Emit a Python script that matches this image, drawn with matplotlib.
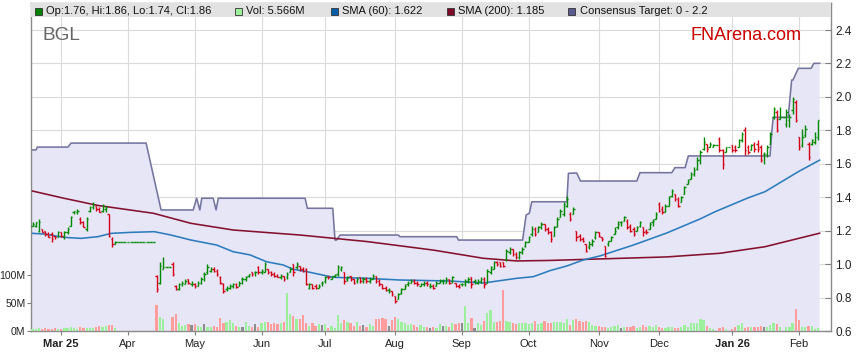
import numpy as np
import matplotlib.pyplot as plt
from matplotlib.collections import LineCollection
from matplotlib.patches import Rectangle

# ---- data (trading-day index 0..247) ----
opens = [1.23,1.23,1.20,1.21,1.20,1.18,1.18,1.17,1.16,1.19,
 1.16,1.19,1.23,1.31,1.31,1.27,1.25,1.21,1.32,1.34,
 1.35,1.33,1.32,1.33,1.30,1.15,1.12,1.13,1.13,1.13,
 1.13,1.13,1.13,1.13,1.13,1.13,1.13,1.13,1.13,0.93,
 0.89,0.97,0.98,0.98,1.00,0.87,0.85,0.88,0.88,0.91,
 0.88,0.88,0.87,0.89,0.94,0.95,0.96,0.97,0.96,0.92,
 0.88,0.85,0.86,0.87,0.88,0.87,0.91,0.91,0.93,0.95,
 0.95,0.98,0.95,0.95,0.97,0.95,0.94,0.93,0.92,0.93,
 0.92,0.95,1.00,0.98,0.99,0.97,0.97,0.86,0.88,0.87,
 0.86,0.89,0.90,0.93,0.91,0.93,0.94,0.97,0.95,0.91,
 0.93,0.91,0.90,0.92,0.91,0.91,0.90,0.91,0.93,0.90,
 0.88,0.86,0.845,0.84,0.81,0.79,0.83,0.85,0.88,0.89,
 0.90,0.89,0.87,0.88,0.89,0.87,0.87,0.87,0.89,0.90,
 0.89,0.91,0.90,0.89,0.87,0.88,0.88,0.90,0.92,0.90,
 0.89,0.90,0.91,0.89,0.95,0.97,1.01,1.01,1.01,1.03,
 1.07,1.09,1.06,1.04,1.07,1.11,1.13,1.18,1.21,1.19,
 1.22,1.24,1.21,1.19,1.17,1.23,1.28,1.30,1.35,1.30,
 1.30,1.20,1.17,1.15,1.12,1.10,1.12,1.16,1.19,1.16,
 1.11,1.12,1.14,1.18,1.22,1.25,1.26,1.26,1.23,1.21,
 1.20,1.23,1.22,1.20,1.21,1.25,1.27,1.36,1.33,1.31,
 1.35,1.41,1.42,1.39,1.37,1.42,1.48,1.51,1.54,1.57,
 1.62,1.69,1.72,1.70,1.70,1.71,1.75,1.68,1.67,1.70,
 1.71,1.70,1.70,1.74,1.80,1.70,1.68,1.72,1.72,1.70,
 1.66,1.66,1.72,1.88,1.91,1.87,1.88,1.84,1.86,1.92,
 1.97,1.76,1.71,1.77,1.72,1.72,1.73,1.76]

highs = [1.25,1.25,1.27,1.21,1.20,1.19,1.19,1.17,1.20,1.19,
 1.20,1.22,1.29,1.32,1.33,1.28,1.26,1.28,1.35,1.37,
 1.35,1.34,1.36,1.35,1.30,1.16,1.14,1.13,1.13,1.13,
 1.13,1.13,1.13,1.13,1.13,1.13,1.13,1.13,1.13,0.935,
 1.01,1.04,0.98,0.98,1.01,0.875,0.89,0.90,0.91,0.91,
 0.90,0.89,0.90,0.92,0.95,1.00,0.98,0.98,0.97,0.93,
 0.89,0.87,0.88,0.89,0.89,0.90,0.92,0.93,0.94,0.95,
 0.96,0.99,0.97,1.01,0.97,0.96,0.95,0.94,0.94,0.93,
 0.95,0.98,1.00,1.01,0.99,0.98,0.975,0.89,0.88,0.88,
 0.88,0.90,0.93,0.93,0.93,0.94,0.995,0.99,0.95,0.93,
 0.93,0.91,0.92,0.92,0.92,0.92,0.92,0.94,0.93,0.91,
 0.88,0.87,0.86,0.84,0.81,0.83,0.86,0.88,0.90,0.91,
 0.91,0.90,0.89,0.90,0.90,0.89,0.88,0.90,0.91,0.91,
 0.92,0.91,0.93,0.89,0.88,0.89,0.91,0.92,0.92,0.91,
 0.91,0.92,0.92,0.97,0.99,1.02,1.02,1.01,1.01,1.09,
 1.10,1.09,1.07,1.08,1.10,1.14,1.17,1.23,1.22,1.23,
 1.25,1.24,1.22,1.20,1.23,1.28,1.33,1.37,1.41,1.31,
 1.34,1.20,1.18,1.16,1.12,1.14,1.15,1.20,1.19,1.16,
 1.11,1.14,1.17,1.22,1.26,1.26,1.29,1.27,1.24,1.22,
 1.23,1.26,1.22,1.21,1.25,1.27,1.31,1.37,1.35,1.36,
 1.41,1.45,1.42,1.40,1.41,1.47,1.51,1.55,1.58,1.64,
 1.68,1.76,1.72,1.73,1.72,1.71,1.76,1.69,1.70,1.70,
 1.71,1.71,1.75,1.79,1.82,1.71,1.72,1.73,1.74,1.71,
 1.67,1.71,1.79,1.94,1.92,1.94,1.88,1.93,1.90,2.00,
 1.98,1.76,1.81,1.83,1.73,1.75,1.79,1.86]

lows = [1.23,1.22,1.19,1.19,1.17,1.16,1.13,1.15,1.16,1.16,
 1.15,1.18,1.23,1.30,1.30,1.24,1.22,1.20,1.31,1.33,
 1.32,1.31,1.31,1.31,1.16,1.10,1.12,1.13,1.13,1.13,
 1.13,1.13,1.13,1.13,1.13,1.13,1.13,1.13,1.13,0.835,
 0.88,0.97,0.98,0.98,0.93,0.845,0.845,0.87,0.88,0.88,
 0.87,0.86,0.87,0.88,0.90,0.94,0.95,0.95,0.93,0.88,
 0.83,0.84,0.85,0.86,0.86,0.87,0.88,0.90,0.92,0.93,
 0.93,0.94,0.94,0.95,0.94,0.93,0.92,0.92,0.91,0.90,
 0.91,0.95,0.93,0.97,0.96,0.95,0.875,0.85,0.85,0.85,
 0.86,0.87,0.89,0.91,0.91,0.92,0.93,0.96,0.88,0.90,
 0.90,0.88,0.89,0.89,0.89,0.89,0.89,0.91,0.89,0.87,
 0.85,0.84,0.83,0.81,0.77,0.79,0.82,0.85,0.87,0.89,
 0.88,0.87,0.87,0.87,0.87,0.86,0.85,0.87,0.89,0.88,
 0.89,0.88,0.89,0.865,0.86,0.87,0.87,0.89,0.86,0.88,
 0.88,0.89,0.86,0.89,0.94,0.97,0.99,0.98,0.98,1.02,
 1.06,1.05,1.03,1.03,1.06,1.10,1.13,1.17,1.17,1.19,
 1.21,1.20,1.18,1.13,1.17,1.22,1.28,1.29,1.34,1.26,
 1.30,1.14,1.14,1.13,1.07,1.09,1.11,1.15,1.16,1.14,
 1.04,1.11,1.14,1.18,1.21,1.23,1.26,1.21,1.19,1.17,
 1.20,1.22,1.17,1.18,1.21,1.23,1.27,1.31,1.30,1.31,
 1.35,1.40,1.38,1.34,1.37,1.42,1.48,1.51,1.53,1.56,
 1.60,1.68,1.67,1.70,1.70,1.71,1.67,1.57,1.67,1.70,
 1.67,1.67,1.70,1.73,1.65,1.66,1.68,1.67,1.67,1.61,
 1.60,1.64,1.72,1.87,1.79,1.87,1.88,1.82,1.82,1.90,
 1.85,1.68,1.70,1.76,1.62,1.71,1.72,1.74]

closes = [1.24,1.25,1.25,1.19,1.18,1.16,1.15,1.16,1.19,1.17,
 1.19,1.21,1.28,1.32,1.32,1.25,1.22,1.27,1.34,1.36,
 1.33,1.31,1.35,1.34,1.17,1.12,1.13,1.13,1.13,1.13,
 1.13,1.13,1.13,1.13,1.13,1.13,1.13,1.13,1.13,0.85,
 0.99,0.98,0.98,0.98,0.94,0.85,0.88,0.89,0.90,0.89,
 0.88,0.87,0.89,0.91,0.94,0.98,0.97,0.96,0.94,0.89,
 0.84,0.86,0.87,0.88,0.865,0.89,0.91,0.92,0.94,0.94,
 0.95,0.95,0.96,1.00,0.95,0.94,0.93,0.92,0.93,0.91,
 0.94,0.97,0.95,1.00,0.97,0.96,0.88,0.88,0.86,0.86,
 0.87,0.89,0.92,0.92,0.93,0.935,0.98,0.98,0.90,0.92,
 0.91,0.89,0.91,0.90,0.91,0.90,0.91,0.93,0.90,0.88,
 0.86,0.845,0.845,0.82,0.78,0.82,0.85,0.87,0.89,0.90,
 0.89,0.88,0.88,0.89,0.88,0.87,0.86,0.89,0.90,0.90,
 0.91,0.89,0.92,0.87,0.865,0.88,0.90,0.91,0.88,0.90,
 0.90,0.91,0.88,0.96,0.98,1.01,1.00,0.99,0.99,1.08,
 1.09,1.06,1.04,1.07,1.09,1.13,1.16,1.21,1.18,1.22,
 1.24,1.21,1.19,1.15,1.22,1.27,1.32,1.36,1.39,1.27,
 1.33,1.16,1.15,1.14,1.08,1.12,1.14,1.19,1.17,1.15,
 1.05,1.14,1.16,1.20,1.24,1.25,1.28,1.22,1.20,1.18,
 1.22,1.25,1.19,1.19,1.24,1.26,1.30,1.32,1.31,1.35,
 1.40,1.44,1.39,1.35,1.40,1.46,1.50,1.54,1.56,1.62,
 1.67,1.73,1.69,1.72,1.71,1.71,1.68,1.60,1.70,1.70,
 1.68,1.68,1.74,1.78,1.68,1.67,1.71,1.69,1.69,1.62,
 1.66,1.70,1.78,1.93,1.80,1.88,1.88,1.91,1.88,1.99,
 1.86,1.70,1.76,1.81,1.64,1.74,1.76,1.86]

# volume in millions
volumes = [4,4,5,4,5,4,4,5,4,4,
 5,6,7,6,4,8,5,6,6,6,
 7,9,8,9,11,10,5,0,0,0,
 0,0,0,0,0,0,0,0,0,47,
 26,21,0,0,26,30,15,9,11,12,
 11,12,9,8,13,7,8,9,8,24,
 14,17,20,15,9,8,8,16,9,8,
 13,8,15,16,16,13,15,13,15,17,
 69,30,27,22,21,28,15,9,15,9,
 12,10,12,6,9,6,28,15,20,16,
 15,9,16,9,10,8,12,9,21,22,
 24,21,9,20,26,21,16,15,10,12,
 10,8,10,8,8,6,8,6,12,9,
 9,7,15,12,14,14,45,14,24,6,
 14,11,18,33,37,16,16,18,73,18,
 16,14,13,14,14,14,13,14,18,13,
 14,18,14,14,16,16,16,14,22,11,
 20,22,18,16,18,16,11,9,9,8,
 7,5,7,9,10,5,7,8,8,9,
 5,7,11,7,9,8,10,7,6,5,
 7,7,6,6,8,10,8,15,15,14,
 22,20,9,6,3,0,5,8,4,0,
 4,7,11,15,5,7,8,8,7,9,
 7,8,11,15,13,8,0,7,7,15,
 39,20,7,7,9,9,4,5.566]

sma60_x = [0, 3.7, 10, 15.2, 20.5, 24.7, 30.9, 38.3, 43.5, 49.8, 57.9, 63.1, 68.4, 73.6, 78.8, 82,
           87.2, 94.6, 105.1, 115.5, 131.3, 141.7, 152.2, 157.5, 162.7, 168, 173.2, 178.4, 188.9,
           199.4, 209.9, 214.7, 225.1, 230.3, 240.8, 247.5]
sma60_y = [1.184, 1.180, 1.160, 1.154, 1.164, 1.184, 1.190, 1.194, 1.174, 1.144, 1.114, 1.074, 1.055,
           1.014, 0.995, 0.969, 0.951, 0.921, 0.915, 0.905, 0.899, 0.887, 0.915, 0.925, 0.961, 0.989,
           1.025, 1.049, 1.114, 1.186, 1.270, 1.314, 1.397, 1.433, 1.553, 1.622]

sma200_x = [0, 9.6, 20.5, 38, 49.8, 63.1, 84.1, 105.1, 126, 141.7, 152.2, 162.7, 178.4, 199.4,
            216.2, 230.3, 247.5]
sma200_y = [1.437, 1.395, 1.351, 1.304, 1.244, 1.204, 1.174, 1.135, 1.084, 1.035, 1.019, 1.022,
            1.031, 1.043, 1.065, 1.104, 1.185]

target_x = [-0.5, 1.1, 1.5, 11.1, 12.1, 35.7, 40.4, 50.5, 51.6, 52.6, 53.2, 56.8, 57.7, 58.4, 85.7,
            86.4, 94.4, 95.1, 95.6, 96.7, 115, 115.5, 133.4, 133.9, 154.1, 155.2, 156.2, 157, 168,
            168.5, 171.1, 172.3, 190, 191, 201, 202, 205.2, 206.2, 231.9, 232.4, 232.9, 237.6, 238.7,
            239.1, 240.8, 244.8, 245.7, 247.5]
target_y = [1.683, 1.683, 1.700, 1.700, 1.724, 1.724, 1.324, 1.324, 1.394, 1.324, 1.394, 1.394, 1.324,
            1.394, 1.394, 1.334, 1.334, 1.144, 1.144, 1.174, 1.174, 1.164, 1.164, 1.144, 1.144, 1.294,
            1.304, 1.373, 1.373, 1.543, 1.545, 1.497, 1.497, 1.547, 1.547, 1.577, 1.577, 1.647, 1.647,
            1.782, 1.878, 1.878, 2.101, 2.101, 2.171, 2.171, 2.201, 2.201]

month_pos = [9, 30, 51, 72, 92, 114, 135, 156, 178, 197, 220, 241]
month_lbl = ['Mar 25', 'Apr', 'May', 'Jun', 'Jul', 'Aug', 'Sep', 'Oct', 'Nov', 'Dec', 'Jan 26', 'Feb']

# ---- figure ----
W, H = 859, 363
L, R, T, B = 31, 831, 3, 331
fig = plt.figure(figsize=(W / 100, H / 100), dpi=100)
fig.patch.set_facecolor('white')
ax = fig.add_axes([L / W, 1 - B / H, (R - L) / W, (B - T) / H])
ax.set_xlim(-0.5, -0.5 + (R - L) / 3.18)
ax.set_ylim(0.6, 0.6 + (B - T) / 167.2)

GREEN, RED = '#008a00', '#d40018'

# consensus band + grid underneath
ax.set_axisbelow(True)
ax.grid(True, color='#dadada', lw=0.8)
ax.fill_between(target_x, 0, target_y, color='#e6e6f6', lw=0, zorder=1)
ax.plot(target_x, target_y, color='#74749f', lw=1.15, zorder=2)
ax.plot(sma200_x, sma200_y, color='#85102e', lw=1.15, zorder=3)
ax.plot(sma60_x, sma60_y, color='#2c7cbd', lw=1.15, zorder=3)

# OHLC bars
o, h, l, c = map(np.array, (opens, highs, lows, closes))
idx = np.arange(len(c))
segs, cols = [], []
for i in idx:
    col = GREEN if c[i] >= o[i] else RED
    segs += [[(i, l[i]), (i, h[i])], [(i - 0.45, o[i]), (i, o[i])], [(i, c[i]), (i + 0.45, c[i])]]
    cols += [col] * 3
ax.add_collection(LineCollection(segs, colors=cols, linewidths=1.0, zorder=4))

# axes styling (price on right)
ax.set_yticks(np.arange(0.6, 2.41, 0.2))
ax.set_yticklabels(['%.1f' % v for v in np.arange(0.6, 2.41, 0.2)])
ax.set_xticks(month_pos)
ax.set_xticklabels(month_lbl)
for t in ax.get_xticklabels():
    t.set_fontfamily('Liberation Sans')
    t.set_fontsize(8)
    if t.get_text() in ('Mar 25', 'Jan 26'):
        t.set_fontweight('bold')
ax.tick_params(axis='x', length=3, width=0.8, color='#808080', pad=3, labelcolor='#222222')
for sp in ax.spines.values():
    sp.set_color('#8a8a8a')
    sp.set_linewidth(1.0)

# volume axis
axv = ax.twinx()
axv.set_ylim(0, (B - T) / 0.556)
vcols = ['#9cf09c' if c[i] > o[i] else ('#ff9c9c' if c[i] < o[i] else '#8c8c8c') for i in idx]
axv.bar(idx, volumes, width=0.7, color=vcols, lw=0, zorder=2)
axv.set_yticks([0, 50, 100])
axv.set_yticklabels(['0M', '50M', '100M'])
for sp in axv.spines.values():
    sp.set_visible(False)

ax.yaxis.tick_right()
axv.yaxis.tick_left()
ax.tick_params(axis='y', direction='in', length=4, width=0.8, color='#808080', pad=3,
               labelsize=8.5, labelcolor='#222222')
axv.tick_params(axis='y', direction='out', length=3, width=0.8, color='#808080', pad=1,
                labelsize=7.5, labelcolor='#222222')
for t in ax.get_yticklabels() + axv.get_yticklabels():
    t.set_fontfamily('Liberation Sans')

# header strip
axv.add_patch(Rectangle((0, 1 - 14 / (B - T)), 1, 14 / (B - T), transform=axv.transAxes,
                        facecolor='#e2e2e2', edgecolor='none', zorder=5))

def fx(x):
    return x / W

def fy(y):
    return 1 - y / H

legend_items = [(35, '#008000', 'Op:1.76, Hi:1.86, Lo:1.74, Cl:1.86'),
                (235, '#9cf09c', 'Vol: 5.566M'),
                (331, '#0a5ea8', 'SMA (60): 1.622'),
                (447, '#7a0a28', 'SMA (200): 1.185'),
                (568, '#5a5a90', 'Consensus Target: 0 - 2.2')]
for x0, fc, txt in legend_items:
    fig.add_artist(Rectangle((fx(x0), fy(14.5)), 7 / W, 7 / H, transform=fig.transFigure,
                             facecolor=fc, edgecolor='#333333', lw=0.6, zorder=6))
    fig.text(fx(x0 + 11.5), fy(10.8), txt, fontsize=8, family='Liberation Sans',
             color='#111111', va='center', ha='left', zorder=7)

fig.text(fx(42), fy(39.5), 'BGL', fontsize=13.7, family='Liberation Sans', color='#666666',
         va='baseline', ha='left')
fig.text(fx(802), fy(39.5), 'FNArena.com', fontsize=13, family='Liberation Sans', color='#cc0000',
         va='baseline', ha='right')

fig.savefig('out.png', dpi=100)
